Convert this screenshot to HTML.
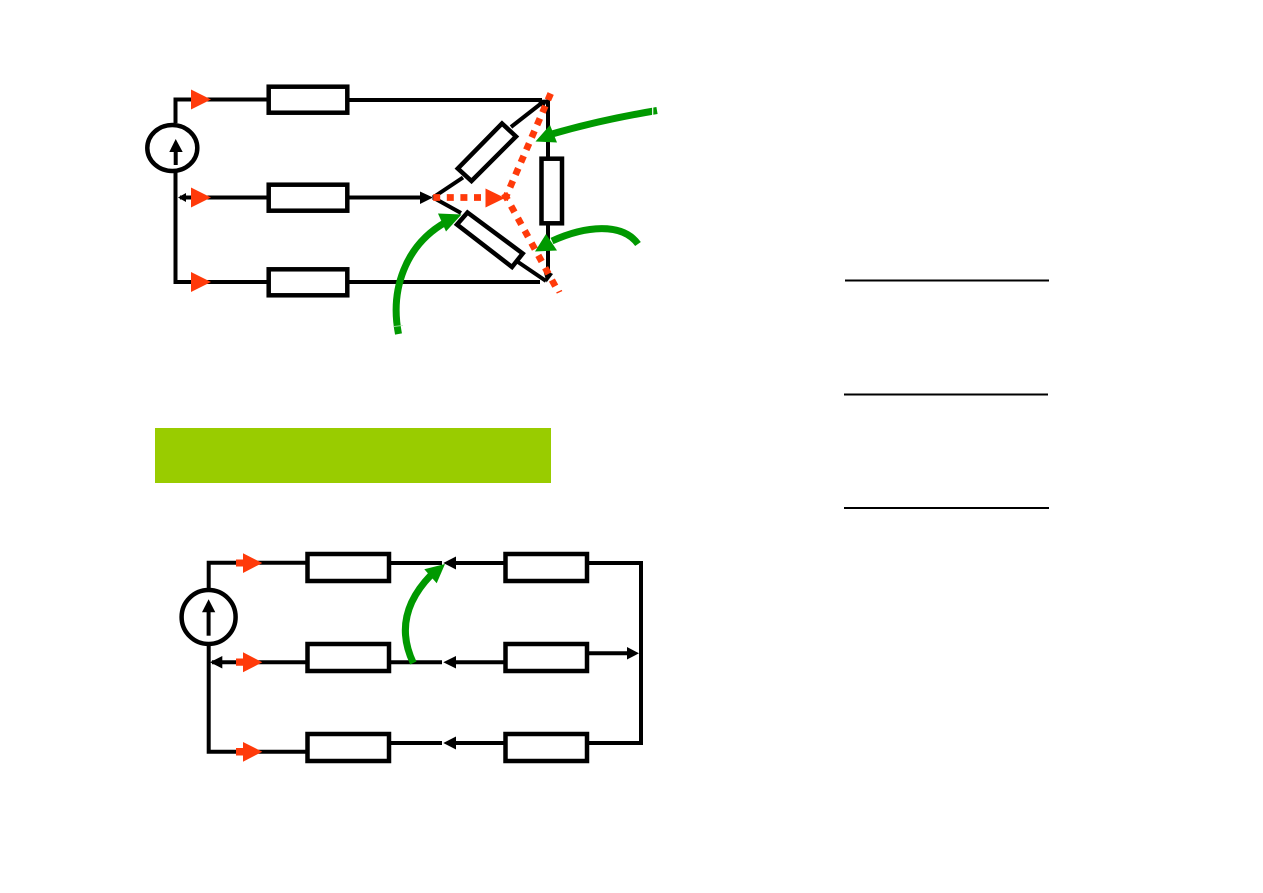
<!DOCTYPE html>
<html>
<head>
<meta charset="utf-8">
<style>
html,body{margin:0;padding:0;background:#fff;}
svg{display:block;}
</style>
</head>
<body>
<svg width="1263" height="893" viewBox="0 0 1263 893" xmlns="http://www.w3.org/2000/svg">
<rect width="1263" height="893" fill="#fff"/>
<!-- top circuit wires -->
<g fill="none" stroke="#000" stroke-width="4">
<path d="M175.500 123V99.500H268"/>
<path d="M175.500 172V282H268"/>
<path d="M180 197.500H268"/>
<path d="M348 100H542"/>
<path d="M348 197.500H424"/>
<path d="M348 282H540"/>
<path d="M548 100V275"/>
<path d="M433 197.500L463 177.500"/>
<path d="M511 127L543 102"/>
<path d="M433 197.500L461 213"/>
<path d="M518 262L546 281"/>
</g>
<g fill="#000">
<path d="M178 197.500L186 193V202Z"/>
<path d="M433 197.500L420 191.500V204Z"/>
<path d="M548 99.500L537 100L543 109Z"/>
<path d="M546.500 282.500L543 269L553 274Z"/>
</g>
<g fill="#fff" stroke="#000" stroke-width="4.500">
<rect x="268.700" y="86.700" width="78.600" height="26"/>
<rect x="268.700" y="184.700" width="78.600" height="26"/>
<rect x="268.700" y="269.300" width="78.600" height="26"/>
<rect x="541.500" y="158.700" width="20.500" height="64.600"/>
<path d="M502 123.500L516 136.500L471.500 181L457.800 168.500Z"/>
<path d="M467.500 212.500L522.700 253.500L512 267L457 224.500Z"/>
<ellipse cx="172.300" cy="148" rx="25" ry="23"/>
</g>
<path d="M175.700 165V150" stroke="#000" stroke-width="4"/>
<path d="M175.700 139L169.300 152H182.700Z" fill="#000"/>
<!-- red dotted -->
<g fill="none" stroke="#ff3a0a" stroke-width="6.700">
<path d="M433.200 197.500H486" stroke-dasharray="7 6.600"/>
<path d="M550.700 93.500L504.600 199.900" stroke-dasharray="7 6.600"/>
<path d="M504.300 193.600L555.400 286.400" stroke-dasharray="7 7.100"/>
</g>
<path d="M556.500 293L562 290.500" stroke="#ff3a0a" stroke-width="1.500"/>
<g fill="#ff3a0a">
<path d="M191 89.500L211 99.500L191 109.500Z"/>
<path d="M191 187.500L211 197.500L191 207.500Z"/>
<path d="M191 272L211 282L191 292Z"/>
<path d="M485.500 188.500L505 198L485.500 207.500Z"/>
</g>
<!-- green arrows top -->
<g fill="none" stroke="#009900" stroke-width="7">
<path d="M657 110.500Q600 120 552 134"/>
<path d="M638 244C622 222 585 226 552 241"/>
<path d="M398.500 334C390 290 405 245 446 222"/>
</g>
<path d="M652.700 107V115" stroke="#fff" stroke-width="1.200"/>
<path d="M393 326.500L403 325.500" stroke="#bfe5bf" stroke-width="0.800"/>
<g fill="#009900">
<path d="M550 125L557 142.500L535.500 141.500Z"/>
<path d="M546 234L557 250.500L535 251.500Z"/>
<path d="M438 213.500L461.500 214.500L446 231.500Z"/>
</g>
<!-- green box -->
<rect x="155" y="428" width="396" height="55" fill="#99cc00"/>
<!-- right lines -->
<g stroke="#000" stroke-width="2">
<path d="M845 280.500H1049"/>
<path d="M844 394.500H1048"/>
<path d="M844 508H1049"/>
</g>
<!-- bottom circuit -->
<g fill="none" stroke="#000" stroke-width="4">
<path d="M208.700 590V562.700H307"/>
<path d="M208.700 645V751.700H307"/>
<path d="M212 662.300H307"/>
<path d="M389 563H442"/>
<path d="M389 662.300H442"/>
<path d="M389 743H442"/>
<path d="M454 563H505"/>
<path d="M454 662.300H505"/>
<path d="M454 743H505"/>
<path d="M587 563H641V743H587"/>
<path d="M587 653.300H629"/>
</g>
<g fill="#000">
<path d="M210 662.300L222.300 656V668.500Z"/>
<path d="M443.300 563L456 556.500V569.500Z"/>
<path d="M443.300 662.300L456 656V668.500Z"/>
<path d="M443.300 743L456 736.500V749.500Z"/>
<path d="M639 653.300L627 647V659.500Z"/>
</g>
<g fill="#fff" stroke="#000" stroke-width="4.500">
<rect x="307.500" y="554" width="81.500" height="27"/>
<rect x="307.500" y="644" width="81.500" height="27"/>
<rect x="307.500" y="734" width="81.500" height="27"/>
<rect x="505.500" y="554" width="81.500" height="27"/>
<rect x="505.500" y="644" width="81.500" height="27"/>
<rect x="505.500" y="734" width="81.500" height="27"/>
<circle cx="208.600" cy="617" r="27" stroke-width="4.500"/>
</g>
<path d="M208.600 635.700V610" stroke="#000" stroke-width="4"/>
<path d="M208.600 599.300L202 612.300H215.300Z" fill="#000"/>
<g fill="#ff3a0a">
<path d="M236 559.500H243V553.300L262.300 563L243 573V566.500H236Z"/>
<path d="M236 658.500H243V652.300L262.300 662.300L243 672.300V665.800H236Z"/>
<path d="M236 748H243V742L262.300 751.700L243 761.700V755.500H236Z"/>
</g>
<path d="M413.300 663C400 635 402 605 431 575" fill="none" stroke="#009900" stroke-width="7"/>
<path d="M424.300 569.300L445 564L436.700 583.300Z" fill="#009900"/>
</svg>
</body>
</html>
